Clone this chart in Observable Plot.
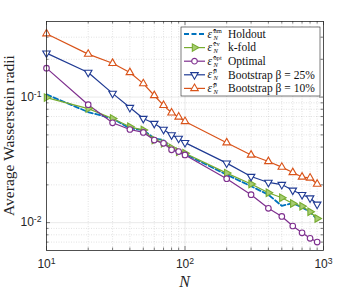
<!DOCTYPE html>
<html><head><meta charset="utf-8">
<script src="https://cdn.jsdelivr.net/npm/d3@7"></script>
<script src="https://cdn.jsdelivr.net/npm/@observablehq/plot@0.6"></script>
<style>body{margin:0;background:#fff}</style>
</head><body><div id="chart"></div>
<script>
// ---- data ----
const N = [10, 20, 30, 40, 50, 60, 70, 80, 90, 100, 200, 300, 400, 500, 600, 700, 800, 900];
const holdout = [0.105, 0.076, 0.0675, 0.0563, 0.0546, 0.0469, 0.0455, 0.039, 0.036, 0.0352, 0.0241, 0.0195, 0.0167, 0.0136, 0.0143, 0.0132, 0.0122, 0.0106];
const kfold   = [0.099, 0.081, 0.0675, 0.058, 0.0546, 0.0455, 0.0428, 0.0394, 0.0366, 0.0357, 0.0248, 0.0203, 0.0173, 0.0158, 0.0142, 0.0135, 0.0122, 0.0108];
const optimal = [0.17, 0.087, 0.0624, 0.0552, 0.0523, 0.0455, 0.0428, 0.038, 0.0368, 0.0346, 0.0224, 0.0167, 0.013, 0.0112, 0.0094, 0.0083, 0.0075, 0.007];
const boot25  = [0.224, 0.157, 0.107, 0.0825, 0.0675, 0.0616, 0.0552, 0.0499, 0.0469, 0.0434, 0.0298, 0.0233, 0.0209, 0.0201, 0.0181, 0.0167, 0.0157, 0.014];
const boot10  = [0.32, 0.22, 0.186, 0.157, 0.128, 0.103, 0.086, 0.075, 0.0695, 0.064, 0.0433, 0.0346, 0.0307, 0.0277, 0.0251, 0.0231, 0.0227, 0.0203];

const seriesKeys = ["hm", "cv", "opt", "b25", "b10"];
const seriesSup = ["hm", "cv", "opt", "β", "β"];
const seriesLabels = ["Holdout", "k-fold", "Optimal", "Bootstrap β = 25%", "Bootstrap β = 10%"];
const seriesValues = [holdout, kfold, optimal, boot25, boot10];

const xMajor = [10, 100, 1000];
const xMinor = [20, 30, 40, 50, 60, 70, 80, 90, 200, 300, 400, 500, 600, 700, 800, 900];
const yMajor = [0.01, 0.1];
const yMinor = [0.007, 0.008, 0.009, 0.02, 0.03, 0.04, 0.05, 0.06, 0.07, 0.08, 0.09, 0.2, 0.3];
const xTickLabels = ["10^1", "10^2", "10^3"];
const yTickLabels = ["10^-2", "10^-1"];

// ---- styles ----
const styles = {
  hm:  {color: "#0072BD", dash: "5,2.5", width: 1.8, symbol: null},
  cv:  {color: "#77AC30", dash: null, width: 1.2, symbol: "triangle", rotate: 90, fill: "#a6cc72"},
  opt: {color: "#7E2F8E", dash: null, width: 1.2, symbol: "circle", rotate: 0, fill: "white"},
  b25: {color: "#1F3A93", dash: null, width: 1.2, symbol: "triangle", rotate: 180, fill: "white"},
  b10: {color: "#D95319", dash: null, width: 1.2, symbol: "triangle", rotate: 0, fill: "white"}
};
const symR = {circle: 2.8, triangle: 2.8};

const rows = seriesKeys.flatMap((k, j) => N.map((n, i) => ({N: n, v: seriesValues[j][i], key: k})));

const W = 357, H = 293, mL = 46, mR = 34, mT = 21, mB = 43;
const pw = W - mL - mR, ph = H - mT - mB;
const gridC = "#000";

const marks = [
  Plot.ruleX(xMinor, {x: d => d, stroke: gridC, strokeOpacity: 0.2, strokeDasharray: "1,1.5", strokeWidth: 0.6}),
  Plot.ruleY(yMinor, {y: d => d, stroke: gridC, strokeOpacity: 0.2, strokeDasharray: "1,1.5", strokeWidth: 0.6}),
  Plot.ruleX([100], {x: d => d, stroke: gridC, strokeOpacity: 0.15, strokeWidth: 0.6}),
  Plot.ruleY(yMajor, {y: d => d, stroke: gridC, strokeOpacity: 0.15, strokeWidth: 0.6}),
  Plot.tickX(xMajor, {x: d => d, insetTop: ph - 4, stroke: "#262626", strokeWidth: 0.6}),
  Plot.tickX(xMajor, {x: d => d, insetBottom: ph - 4, stroke: "#262626", strokeWidth: 0.6}),
  Plot.tickX(xMinor, {x: d => d, insetTop: ph - 2.5, stroke: "#262626", strokeWidth: 0.6}),
  Plot.tickX(xMinor, {x: d => d, insetBottom: ph - 2.5, stroke: "#262626", strokeWidth: 0.6}),
  Plot.tickY(yMajor, {y: d => d, insetRight: pw - 4, stroke: "#262626", strokeWidth: 0.6}),
  Plot.tickY(yMajor, {y: d => d, insetLeft: pw - 4, stroke: "#262626", strokeWidth: 0.6}),
  Plot.tickY(yMinor, {y: d => d, insetRight: pw - 2.5, stroke: "#262626", strokeWidth: 0.6}),
  Plot.tickY(yMinor, {y: d => d, insetLeft: pw - 2.5, stroke: "#262626", strokeWidth: 0.6}),
];

for (const k of seriesKeys) {
  const s = styles[k];
  const data = rows.filter(r => r.key === k);
  marks.push(Plot.line(data, {x: "N", y: "v", stroke: s.color, strokeWidth: s.width, strokeDasharray: s.dash}));
}
for (const k of seriesKeys) {
  const s = styles[k];
  if (!s.symbol) continue;
  const data = rows.filter(r => r.key === k);
  marks.push(Plot.dot(data, {x: "N", y: "v", symbol: s.symbol, rotate: s.rotate, r: symR[s.symbol], stroke: s.color, strokeWidth: 1.1, fill: s.fill}));
}

marks.push(Plot.frame({stroke: "#262626", strokeWidth: 0.8}));
marks.push(Plot.axisX(xMajor, {tickSize: 0, tickPadding: 9, tickFormat: d => xTickLabels[xMajor.indexOf(d)], fontSize: 12, fill: "#262626", label: null}));
marks.push(Plot.axisY(yMajor, {tickSize: 0, tickPadding: 5, tickFormat: d => yTickLabels[yMajor.indexOf(d)], fontSize: 12, fill: "#262626", label: null}));

const chart = Plot.plot({
  width: W, height: H,
  marginLeft: mL, marginRight: mR, marginTop: mT, marginBottom: mB,
  style: {fontFamily: "'Liberation Sans', Arial, sans-serif", background: "white"},
  x: {type: "log", domain: [10, 1000]},
  y: {type: "log", domain: [0.006, 0.4]},
  marks
});
document.getElementById("chart").appendChild(chart);

const svg = d3.select(chart);
svg.selectAll('g[aria-label="x-axis tick label"] text, g[aria-label="y-axis tick label"] text').each(function () {
  const t = this.textContent;
  const parts = t.split("^");
  if (parts.length === 2) {
    const el = d3.select(this);
    el.text(null);
    el.append("tspan").text(parts[0]);
    el.append("tspan").attr("dy", "-0.5em").attr("font-size", "0.72em").text(parts[1]);
  }
});

// axis titles
svg.append("text").attr("transform", `translate(14,${mT + ph / 2}) rotate(-90)`)
  .attr("text-anchor", "middle").attr("font-family", "'Liberation Serif', serif").attr("font-size", 15.5)
  .attr("fill", "#262626").text("Average Wasserstein radii");
svg.append("text").attr("x", mL + pw / 2).attr("y", 287)
  .attr("text-anchor", "middle").attr("font-family", "'Liberation Serif', serif").attr("font-style", "italic").attr("font-size", 16)
  .attr("fill", "#262626").text("N");

// legend
const lg = svg.append("g").attr("font-family", "'Liberation Serif', serif").attr("fill", "#111").attr("text-anchor", "start");
lg.append("rect").attr("x", 181).attr("y", 27).attr("width", 139).attr("height", 69)
  .attr("fill", "white").attr("stroke", "#262626").attr("stroke-width", 0.6);
seriesKeys.forEach((k, i) => {
  const s = styles[k];
  const cy = 34 + i * 13.6;
  lg.append("line").attr("x1", 184).attr("x2", 205).attr("y1", cy).attr("y2", cy)
    .attr("stroke", s.color).attr("stroke-width", s.width).attr("stroke-dasharray", s.dash);
  if (s.symbol) {
    const sym = s.symbol === "circle" ? d3.symbolCircle : d3.symbolTriangle;
    const r = symR[s.symbol];
    lg.append("path").attr("d", d3.symbol(sym, Math.PI * r * r)())
      .attr("transform", `translate(194.5,${cy}) rotate(${s.rotate})`)
      .attr("fill", s.fill).attr("stroke", s.color).attr("stroke-width", 1.1);
  }
  const tx = lg.append("text").attr("y", cy + 3.5).attr("font-size", 11.5).attr("text-anchor", "start");
  tx.append("tspan").attr("x", 207.5).attr("font-style", "italic").text("ε̂");
  tx.append("tspan").attr("x", 213.5).attr("dy", -5).attr("font-size", 6.5).attr("font-style", seriesSup[i] === "β" ? "italic" : "normal").text(seriesSup[i]);
  tx.append("tspan").attr("x", 213.5).attr("dy", 7).attr("font-size", 6.5).attr("font-style", "italic").text("N");
  lg.append("text").attr("x", 228).attr("y", cy + 3.8).attr("font-size", 11.5).attr("text-anchor", "start").text(seriesLabels[i]);
});
</script>
</body></html>
